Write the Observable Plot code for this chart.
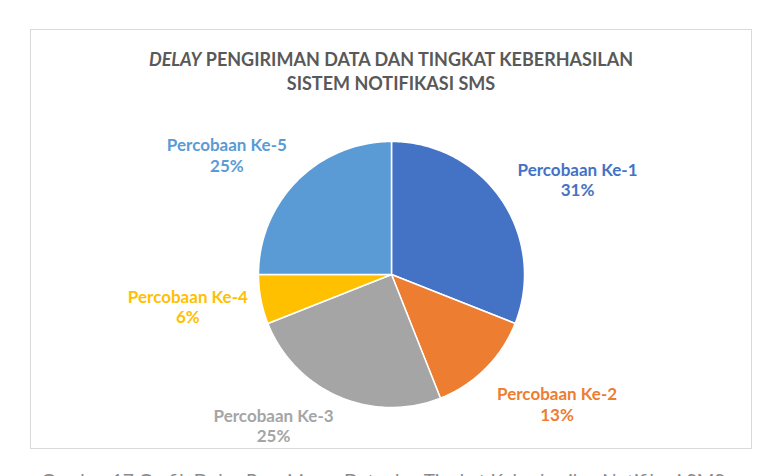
<!DOCTYPE html>
<html>
<head>
<meta charset="utf-8">
<script src="https://cdn.jsdelivr.net/npm/d3@7"></script>
<script src="https://cdn.jsdelivr.net/npm/@observablehq/plot@0.6"></script>
<style>
  html, body { margin: 0; padding: 0; background: #fff; }
  #wrap { position: relative; width: 766px; height: 476px; overflow: hidden; font-family: Lato, "Open Sans", sans-serif; }
  #frame { position: absolute; left: 30px; top: 29px; width: 722px; height: 420px; border: 1px solid #d9d9d9; box-sizing: border-box; }
  #title { position: absolute; left: 30px; top: 47px; width: 722px; text-align: center; font-weight: 700; font-size: 18px; line-height: 24px; color: #595959; }
  #chart { position: absolute; left: 0; top: 0; }
  #caption { position: absolute; left: 0; top: 469px; width: 766px; text-align: center; font-size: 19px; line-height: 24px; color: #8a8a8a; white-space: nowrap; }
</style>
</head>
<body>
<div id="wrap">
  <div id="frame"></div>
  <div id="title"></div>
  <div id="chart"></div>
  <div id="caption"></div>
</div>
<script>
// ---- data ----
const categories = ["Percobaan Ke-1", "Percobaan Ke-2", "Percobaan Ke-3", "Percobaan Ke-4", "Percobaan Ke-5"];
const percentages = [31, 13, 25, 6, 25];
const sliceColors = ["#4472C4", "#ED7D31", "#A5A5A5", "#FFC000", "#5B9BD5"];
const titleEmphasis = "DELAY";
const titleLine1 = " PENGIRIMAN DATA DAN TINGKAT KEBERHASILAN";
const titleLine2 = "SISTEM NOTIFIKASI SMS";
const captionText = "Gambar 17 Grafik Delay Pengiriman Data dan Tingkat Keberhasilan Notifikasi SMS";

// ---- label layout (polar, in radius units; angle clockwise from 12 o'clock) ----
const labelAngle = [63, 128, 218, 261, 306];
const labelRadius = [1.57, 1.58, 1.44, 1.55, 1.53];

// ---- geometry frame: pie radius = 1 unit ----
const W = 766, H = 476, R = 133, CX = 391, CY = 274;

const title = document.getElementById("title");
title.innerHTML = `<i>${titleEmphasis}</i>${titleLine1}<br>${titleLine2}`;
document.getElementById("caption").textContent = captionText;

const arcs = d3.pie().sort(null).value(d => d)(percentages);
const slicePoints = [];
arcs.forEach((a, i) => {
  const name = categories[i];
  slicePoints.push({name, x: 0, y: 0});
  const n = Math.max(2, Math.ceil((a.endAngle - a.startAngle) / (Math.PI / 180)));
  for (let k = 0; k <= n; k++) {
    const t = a.startAngle + (a.endAngle - a.startAngle) * k / n;
    slicePoints.push({name, x: Math.sin(t), y: Math.cos(t)});
  }
});

const labels = categories.map((name, i) => {
  const t = labelAngle[i] * Math.PI / 180;
  return {name, x: labelRadius[i] * Math.sin(t), y: labelRadius[i] * Math.cos(t), text: `${name}\n${percentages[i]}%`};
});

const chart = Plot.plot({
  width: W,
  height: H,
  margin: 0,
  style: {background: "transparent", overflow: "visible"},
  x: {domain: [-CX / R, (W - CX) / R], axis: null},
  y: {domain: [-(H - CY) / R, CY / R], axis: null},
  color: {domain: categories, range: sliceColors},
  marks: [
    Plot.line(slicePoints, {x: "x", y: "y", z: "name", fill: "name", stroke: "#fff", strokeWidth: 1.5, curve: "linear-closed"}),
    Plot.text(labels, {x: "x", y: "y", text: "text", fill: "name", fontSize: 17, fontWeight: "bold", fontFamily: "Lato, 'Open Sans', sans-serif", lineHeight: 1.2, textAnchor: "middle", lineAnchor: "middle"})
  ]
});
document.getElementById("chart").appendChild(chart);
</script>
</body>
</html>
